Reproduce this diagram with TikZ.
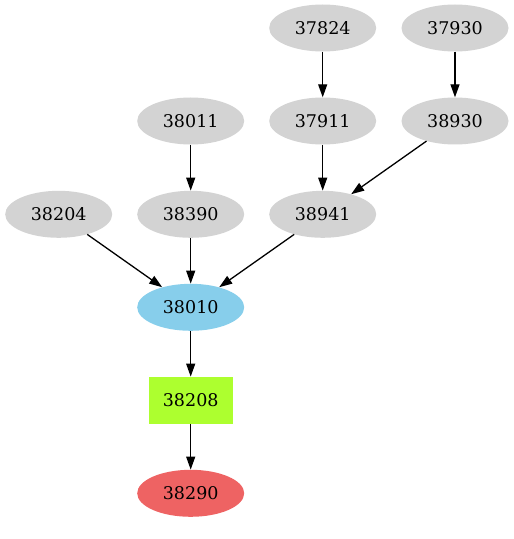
\documentclass[tikz,border=0pt]{standalone}
\usepackage{fontspec}
\setmainfont{DejaVu Serif}
\usetikzlibrary{shapes.geometric,arrows.meta}
\definecolor{nodegray}{HTML}{D3D3D3}
\definecolor{skyblue}{HTML}{87CEEB}
\definecolor{greenyel}{HTML}{ADFF2F}
\definecolor{redish}{HTML}{EE6363}
\tikzset{
  gnode/.style={ellipse, fill=nodegray, draw=none, minimum width=107pt, minimum height=47pt, inner sep=0pt, font=\fontsize{17.5}{20}\selectfont},
  bnode/.style={gnode, fill=skyblue},
  rnode/.style={gnode, fill=redish},
  boxnode/.style={rectangle, fill=greenyel, draw=none, minimum width=84pt, minimum height=47pt, inner sep=0pt, font=\fontsize{17.5}{20}\selectfont},
  edge/.style={draw=black, line width=1.3pt, -{Triangle[length=13pt,width=9pt]}}
}
\begin{document}
\begin{tikzpicture}[x=1pt,y=1pt]
\useasboundingbox (0,0) rectangle (514,539);
\node[gnode] (n37824) at (322.7,511) {37824};
\node[gnode] (n37930) at (455,511) {37930};
\node[gnode] (n38011) at (190.7,418) {38011};
\node[gnode] (n37911) at (322.7,418) {37911};
\node[gnode] (n38930) at (455,418) {38930};
\node[gnode] (n38204) at (58.7,324.7) {38204};
\node[gnode] (n38390) at (190.7,324.7) {38390};
\node[gnode] (n38941) at (322.7,324.7) {38941};
\node[bnode] (n38010) at (190.7,231.7) {38010};
\node[boxnode] (n38208) at (190.7,138.7) {38208};
\node[rnode] (n38290) at (190.7,45.7) {38290};
\draw[edge] (n37824) -- (n37911);
\draw[edge] (n37930) -- (n38930);
\draw[edge] (n38011) -- (n38390);
\draw[edge] (n37911) -- (n38941);
\draw[edge] (n38930) -- (n38941);
\draw[edge] (n38204) -- (n38010);
\draw[edge] (n38390) -- (n38010);
\draw[edge] (n38941) -- (n38010);
\draw[edge] (n38010) -- (n38208);
\draw[edge] (n38208) -- (n38290);
\end{tikzpicture}
\end{document}
